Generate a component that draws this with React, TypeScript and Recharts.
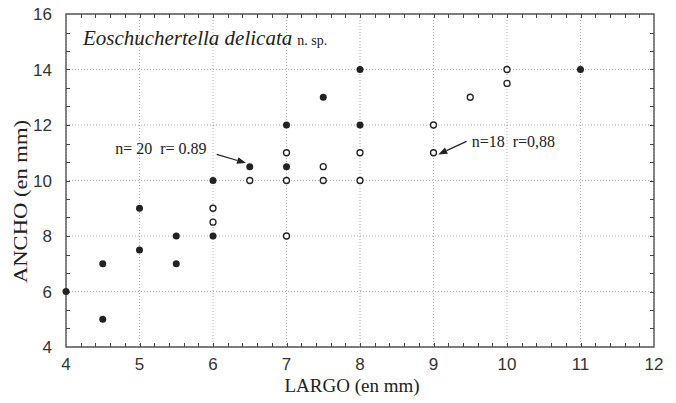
import React from "react";
import {
  ScatterChart,
  Scatter,
  XAxis,
  YAxis,
  CartesianGrid,
  ReferenceArea,
  ReferenceLine,
  ReferenceDot,
} from "recharts";

// filled dots (n = 20)
const filledLargo = [4, 4.5, 4.5, 5, 5, 5.5, 5.5, 6, 6, 6.5, 7, 7, 7.5, 8, 8, 11];
const filledAncho = [6, 7, 5, 9, 7.5, 8, 7, 10, 8, 10.5, 12, 10.5, 13, 14, 12, 14];

// open dots (n = 18)
const openLargo = [6, 6, 6.5, 7, 7, 7, 7.5, 7.5, 8, 8, 9, 9, 9.5, 10, 10];
const openAncho = [9, 8.5, 10, 11, 10, 8, 10.5, 10, 11, 10, 12, 11, 13, 14, 13.5];

const xTicks = [4, 5, 6, 7, 8, 9, 10, 11, 12];
const yTicks = [4, 6, 8, 10, 12, 14, 16];

// small inward ticks on the frame
const xMinor = [
  4.2, 4.4, 4.6, 4.8, 5, 5.2, 5.4, 5.6, 5.8, 6, 6.2, 6.4, 6.6, 6.8, 7, 7.2, 7.4, 7.6, 7.8, 8,
  8.2, 8.4, 8.6, 8.8, 9, 9.2, 9.4, 9.6, 9.8, 10, 10.2, 10.4, 10.6, 10.8, 11, 11.2, 11.4, 11.6, 11.8,
];
const yMinor = [
  4.667, 5.333, 6, 6.667, 7.333, 8, 8.667, 9.333, 10, 10.667, 11.333, 12, 12.667, 13.333, 14,
  14.667, 15.333,
];

const filled = filledLargo.map((x, i) => ({ x, y: filledAncho[i] }));
const open = openLargo.map((x, i) => ({ x, y: openAncho[i] }));
const tickBottom = xMinor.map((x) => ({ x, y: 4 }));
const tickTop = xMinor.map((x) => ({ x, y: 16 }));
const tickLeftData = yMinor.map((y) => ({ x: 4, y }));
const tickRightData = yMinor.map((y) => ({ x: 12, y }));

const sans = "Liberation Sans, Arial, sans-serif";
const serif = "Liberation Serif, Times New Roman, serif";
const tickStyle = { fontFamily: sans, fontSize: 17, fill: "#333" };

function Arrow(props: any) {
  const { x1, y1, x2, y2 } = props;
  const ang = Math.atan2(y2 - y1, x2 - x1);
  const L = 9;
  const W = 3.5;
  const bx = x2 - L * Math.cos(ang);
  const by = y2 - L * Math.sin(ang);
  const px = -Math.sin(ang) * W;
  const py = Math.cos(ang) * W;
  return (
    <g>
      <line x1={x1} y1={y1} x2={bx} y2={by} stroke="#222" strokeWidth={1.2} />
      <polygon
        points={`${x2},${y2} ${bx + px},${by + py} ${bx - px},${by - py}`}
        fill="#222"
      />
    </g>
  );
}

// short tick drawn from a point, dx/dy = direction into the plot
function tickShape(dx: number, dy: number) {
  return (p: any) => {
    const x = dx === 0 ? Math.round(p.cx) + 0.5 : p.cx;
    const y = dy === 0 ? Math.round(p.cy) + 0.5 : p.cy;
    return <line x1={x} y1={y} x2={x + dx * 4} y2={y + dy * 4} stroke="#444" strokeWidth={1} />;
  };
}

function textShape(content: React.ReactNode, size = 16) {
  return (p: any) => (
    <text x={p.cx} y={p.cy} fontFamily={serif} fontSize={size} fill="#222">
      {content}
    </text>
  );
}

export default function App() {
  return (
    <div style={{ position: "absolute", left: 0, top: 0, background: "#fff" }}>
      <ScatterChart
        width={676}
        height={403}
        margin={{ top: 14, right: 22, left: 0, bottom: 0 }}
      >
        <CartesianGrid stroke="#aaa" strokeDasharray="1 2" />
        <XAxis
          type="number"
          dataKey="x"
          domain={[4, 12]}
          ticks={xTicks}
          height={56}
          tickLine={false}
          axisLine={false}
          tick={tickStyle}
          tickMargin={5}
          label={{
            content: () => (
              <text x={352} y={392} textAnchor="middle" fontFamily={serif} fontSize={19} fill="#222">
                LARGO (en mm)
              </text>
            ),
          }}
        />
        <YAxis
          type="number"
          dataKey="y"
          domain={[4, 16]}
          ticks={yTicks}
          width={66}
          tickLine={false}
          axisLine={false}
          tick={tickStyle}
          tickMargin={8}
          label={{
            content: () => (
              <text
                transform="translate(27,201.5) rotate(-90)"
                textAnchor="middle"
                textLength={163}
                lengthAdjust="spacingAndGlyphs"
                fontFamily={serif}
                fontSize={19}
                fill="#222"
              >
                ANCHO (en mm)
              </text>
            ),
          }}
        />
        <ReferenceArea x1={4} x2={12} y1={4} y2={16} fill="none" stroke="#555" strokeWidth={1.4} />
        <Scatter data={tickBottom} isAnimationActive={false} shape={tickShape(0, -1)} />
        <Scatter data={tickTop} isAnimationActive={false} shape={tickShape(0, 1)} />
        <Scatter data={tickLeftData} isAnimationActive={false} shape={tickShape(1, 0)} />
        <Scatter data={tickRightData} isAnimationActive={false} shape={tickShape(-1, 0)} />
        <Scatter
          data={open}
          fill="#fff"
          stroke="#222"
          isAnimationActive={false}
          shape={(p: any) => (
            <circle cx={p.cx} cy={p.cy} r={3} fill="#fff" stroke="#222" strokeWidth={1.3} />
          )}
        />
        <Scatter
          data={filled}
          fill="#222"
          isAnimationActive={false}
          shape={(p: any) => <circle cx={p.cx} cy={p.cy} r={3.5} fill="#222" />}
        />
        <ReferenceLine
          segment={[
            { x: 6.05, y: 10.94 },
            { x: 6.45, y: 10.63 },
          ]}
          shape={Arrow}
        />
        <ReferenceLine
          segment={[
            { x: 9.45, y: 11.41 },
            { x: 9.065, y: 10.94 },
          ]}
          shape={Arrow}
        />
        <ReferenceDot
          x={4.67}
          y={10.94}
          r={0}
          shape={textShape(<>n= 20{"\u00a0\u00a0"}r= 0.89</>)}
        />
        <ReferenceDot
          x={9.52}
          y={11.2}
          r={0}
          shape={textShape(<>n=18{"\u00a0\u00a0"}r=0,88</>)}
        />
        <ReferenceDot
          x={4.23}
          y={14.88}
          r={0}
          shape={textShape(
            <>
              <tspan fontStyle="italic" fontSize={21}>Eoschuchertella delicata</tspan>
              <tspan fontSize={14} dx={5}>n. sp.</tspan>
            </>
          )}
        />
      </ScatterChart>
    </div>
  );
}
